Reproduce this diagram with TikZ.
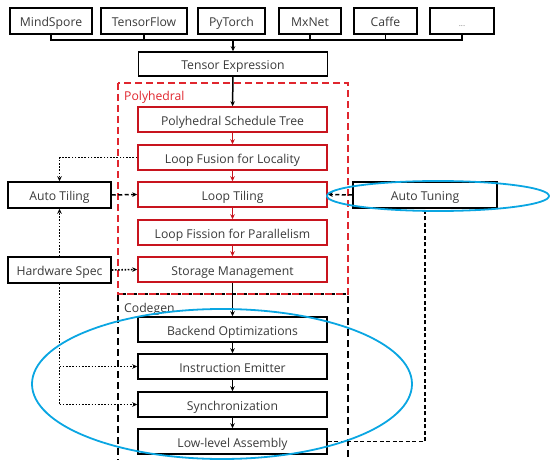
\documentclass[tikz,border=0pt]{standalone}
\usepackage{fontspec}
\setmainfont{Open Sans}
\usetikzlibrary{arrows.meta}
\definecolor{txt}{HTML}{3A3A3A}
\definecolor{polyred}{HTML}{C8141E}
\definecolor{dashred}{HTML}{E0262E}
\definecolor{hl}{HTML}{0AA6E2}
\tikzset{
  every node/.style={font=\fontsize{12.2pt}{14pt}\selectfont, text=txt},
  box/.style={draw=black, line width=1.5pt, minimum height=25pt, inner sep=0pt,
              text height=11.5pt, text depth=0.5pt},
  stagebox/.style={box, minimum width=189pt},
  redstage/.style={stagebox, draw=polyred},
  sidebox/.style={box, minimum width=103pt, minimum height=26pt},
  tip/.style={-{Stealth[length=5pt,width=4.5pt]}},
  flow/.style={tip, line width=1.5pt},
  redflow/.style={flow, draw=polyred, -{Stealth[length=5pt,width=4.5pt,color=polyred]}},
  dotline/.style={line width=1.6pt, dash pattern=on 1.6pt off 1.6pt},
  dashline/.style={line width=1.5pt, dash pattern=on 4pt off 2.5pt},
  region/.style={line width=1.5pt, dash pattern=on 7pt off 4pt},
  focus/.style={draw=hl, line width=1.8pt},
}
\begin{document}
\begin{tikzpicture}[x=1pt, y=-1pt]
\useasboundingbox (0,0) rectangle (552,460);
\clip (0,0) rectangle (552,460);

% frameworks
\node[box, minimum width=82pt, minimum height=26pt] (ms)  at (51,21)    {MindSpore};
\node[box, minimum width=86pt, minimum height=26pt] (tf)  at (144,21)   {TensorFlow};
\node[box, minimum width=67pt, minimum height=26pt] (pt)  at (231.5,21) {PyTorch};
\node[box, minimum width=62pt, minimum height=26pt] (mx)  at (310,21)   {MxNet};
\node[box, minimum width=63pt, minimum height=26pt] (cf)  at (385.5,21) {Caffe};
\node[box, minimum width=64pt, minimum height=26pt] (etc) at (462,21)   {\fontsize{8pt}{9pt}\selectfont\color{gray}...};

\node[stagebox, minimum height=24pt] (te) at (233,64) {Tensor Expression};

% region frames
\draw[region] (118,294) rectangle (348,475);
\node[anchor=base west, inner sep=0pt] (cglabel) at (124,312) {Codegen};
\draw[region, draw=dashred] (118,83) rectangle (348,294);
\node[anchor=base west, inner sep=0pt, text=dashred] (phlabel) at (124,101) {Polyhedral};

% polyhedral stages
\node[redstage] (pst)  at (232.5,119.5) {Polyhedral Schedule Tree};
\node[redstage] (lff)  at (232.5,157.5) {Loop Fusion for Locality};
\node[redstage] (lt)   at (232.5,194.5) {Loop Tiling};
\node[redstage] (lfp)  at (232.5,232.5) {Loop Fission for Parallelism};
\node[redstage] (sm)   at (232.5,269.5) {Storage Management};

% codegen stages
\node[stagebox] (bo)  at (232.5,329.5) {Backend Optimizations};
\node[stagebox] (ie)  at (232.5,366.5) {Instruction Emitter};
\node[stagebox] (sy)  at (232.5,404.5) {Synchronization};
\node[stagebox] (lla) at (232.5,441.5) {Low-level Assembly};

% side inputs
\node[sidebox] (at) at (59.5,195) {Auto Tiling};
\node[sidebox] (hw) at (59.5,270) {Hardware Spec};
\node[box, minimum width=144pt, minimum height=26pt] (tun) at (425,195) {Auto Tuning};

% framework bus
\coordinate (bus) at (0,40);
\draw[line width=1.5pt] (ms.south) -- (ms.south |- bus) -- (etc.south |- bus) -- (etc.south);
\foreach \n in {tf,mx,cf} \draw[line width=1.5pt] (\n.south) -- (\n.south |- bus);
\draw[flow] (te.north |- bus) -- (te.north);

% main pipeline
\draw[flow] (te) -- (pst);
\draw[redflow] (pst) -- (lff);
\draw[redflow] (lff) -- (lt);
\draw[redflow] (lt) -- (lfp);
\draw[redflow] (lfp) -- (sm);
\draw[flow] (sm) -- (bo);
\draw[flow] (bo) -- (ie);
\draw[flow] (ie) -- (sy);
\draw[flow] (sy) -- (lla);

% tiling and hardware feedback
\draw[dotline, tip] (lff.west) -| (at.north);
\draw[dotline, tip] (hw.north) -- (at.south);
\draw[dashline, tip] (at.east) -- (lt.west);
\draw[dotline, tip] (hw.east) -- (sm.west);
\draw[dotline] (hw.south) -- (hw.south |- sy.west);
\draw[dotline, tip] (hw.south |- ie.west) -- (ie.west);
\draw[dotline, tip] (hw.south |- sy.west) -- (sy.west);

% tuning loop
\draw[dashline, tip] (tun.west) -- (lt.east);
\draw[dashline] (lla.east) -| (tun.south);

% highlighted areas
\draw[focus] (438,196) ellipse [x radius=111, y radius=15];
\draw[focus] (222,384) ellipse [x radius=190, y radius=75];
\end{tikzpicture}
\end{document}
